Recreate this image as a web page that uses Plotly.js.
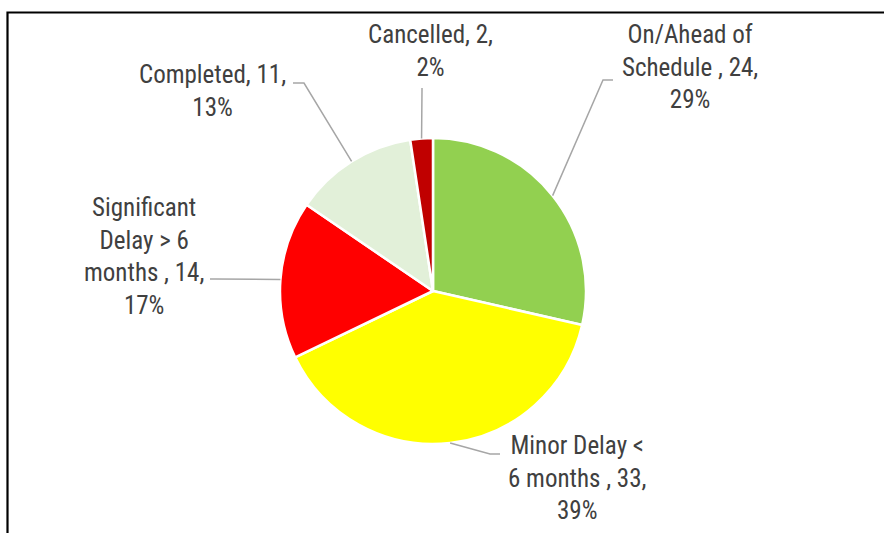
<!DOCTYPE html>
<html>
<head>
<meta charset="utf-8">
<script src="https://cdn.plot.ly/plotly-3.0.1.min.js"></script>
<style>html,body{margin:0;padding:0;background:#fff;}#chart{width:884px;height:533px;}</style>
</head>
<body>
<div id="chart"></div>
<script>
// ---- data ----
const categories = ['On/Ahead of<br>Schedule ', 'Minor Delay &lt;<br>6 months ', 'Significant<br>Delay &gt; 6<br>months ', 'Completed', 'Cancelled'];
const values = [24, 33, 14, 11, 2];
const colors = ['#92D050', '#FFFF00', '#FF0000', '#E2F0D9', '#C00000'];

// ---- layout helpers (pixels) ----
const W = 884, H = 533;
const cx = 433, cy = 291, R = 153;
const px = (x, y) => [x / W, 1 - y / H];

const total = values.reduce((a, b) => a + b, 0);
const pcts = values.map(v => Math.round(v / total * 100));
const labelText = categories.map((c, i) => {
  const head = c + ', ' + values[i] + ',';
  return head + '<br>' + pcts[i] + '%';
});
// fix wrapping to match reference lines
labelText[0] = 'On/Ahead of<br>Schedule , ' + values[0] + ',<br>' + pcts[0] + '%';
labelText[1] = 'Minor Delay &lt;<br>6 months , ' + values[1] + ',<br>' + pcts[1] + '%';
labelText[2] = 'Significant<br>Delay &gt; 6<br>months , ' + values[2] + ',<br>' + pcts[2] + '%';

// label centres and leader-line elbows (pixels)
const labelPos = [[690, 67], [577, 478], [144, 256], [212, 91], [430, 51]];
const elbows = [
  [[613, 80], [603, 80]],
  [[500, 454], [490, 454]],
  [[210, 279], [215, 279]],
  [[293, 83], [304, 83]],
  [[422, 88], [422, 90]]
];

// slice mid-angle edge points computed from the data
let cum = 0;
const edgePts = values.map(v => {
  const mid = (cum + v / 2) / total * 2 * Math.PI;
  cum += v;
  return [cx + R * Math.sin(mid), cy - R * Math.cos(mid)];
});

const font = {family: '"Liberation Sans Narrow", "Arial Narrow", "Roboto Condensed", Roboto, sans-serif', size: 25, color: '#404040'};

const annotations = labelText.map((t, i) => {
  const p = px(labelPos[i][0], labelPos[i][1]);
  return {text: t, x: p[0], y: p[1], xref: 'paper', yref: 'paper', showarrow: false,
          xanchor: 'center', yanchor: 'middle', align: 'center', font: font};
});

const shapes = edgePts.map((e, i) => {
  const pts = [elbows[i][0], elbows[i][1], e].map(q => px(q[0], q[1]));
  return {type: 'path', xref: 'paper', yref: 'paper',
          path: 'M' + pts.map(q => q[0] + ',' + q[1]).join(' L'),
          line: {color: '#A6A6A6', width: 1.5}};
});
// chart frame
const f1 = px(7.5, 600), f2 = px(7.5, 12.5), f3 = px(900, 12.5);
shapes.push({type: 'path', xref: 'paper', yref: 'paper',
  path: 'M' + f1[0] + ',' + f1[1] + ' L' + f2[0] + ',' + f2[1] + ' L' + f3[0] + ',' + f3[1],
  line: {color: '#000000', width: 2.2}});

const d0 = px(cx - R, cy + R), d1 = px(cx + R, cy - R);
const trace = {
  type: 'pie', values: values, labels: categories, sort: false, direction: 'clockwise', rotation: 0,
  marker: {colors: colors, line: {color: '#FFFFFF', width: 2.5}},
  textinfo: 'none', hoverinfo: 'skip', showlegend: false,
  domain: {x: [d0[0], d1[0]], y: [d0[1], d1[1]]}
};

Plotly.newPlot('chart', [trace], {
  width: W, height: H, margin: {l: 0, r: 0, t: 0, b: 0},
  paper_bgcolor: '#FFFFFF', showlegend: false,
  annotations: annotations, shapes: shapes
}, {staticPlot: true});
</script>
</body>
</html>
